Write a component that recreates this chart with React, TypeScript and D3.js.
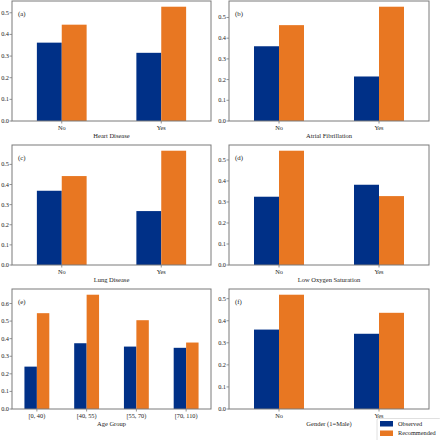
import React from "react";
import * as d3 from "d3";

const yesNo = ["No", "Yes"];
const ageGroups = ["[0, 40)", "[40, 55)", "[55, 70)", "[70, 110)"];

const panelLabels = ["(a)", "(b)", "(c)", "(d)", "(e)", "(f)"];
const axisTitles = [
  "Heart Disease",
  "Atrial Fibrillation",
  "Lung Disease",
  "Low Oxygen Saturation",
  "Age Group",
  "Gender (1=Male)",
];

const observedA = [0.362, 0.315];
const recommendedA = [0.445, 0.528];
const observedB = [0.361, 0.215];
const recommendedB = [0.463, 0.552];
const observedC = [0.369, 0.268];
const recommendedC = [0.442, 0.568];
const observedD = [0.325, 0.382];
const recommendedD = [0.544, 0.328];
const observedE = [0.241, 0.374, 0.355, 0.348];
const recommendedE = [0.545, 0.65, 0.505, 0.378];
const observedF = [0.36, 0.341];
const recommendedF = [0.518, 0.436];

const seriesNames = ["Observed", "Recommended"];
const colors = ["#003087", "#E87722"];

const panels = [
  { cats: yesNo, obs: observedA, rec: recommendedA },
  { cats: yesNo, obs: observedB, rec: recommendedB },
  { cats: yesNo, obs: observedC, rec: recommendedC },
  { cats: yesNo, obs: observedD, rec: recommendedD },
  { cats: ageGroups, obs: observedE, rec: recommendedE },
  { cats: yesNo, obs: observedF, rec: recommendedF },
];

const colX = [
  [12, 211],
  [229, 429],
];
const rowY = [
  [1, 121],
  [145, 265],
  [289, 409],
];

const FONT = "'Liberation Serif', 'DejaVu Serif', serif";
const SPINE = "#7a7a7a";

function Panel({ idx }: { idx: number }) {
  const p = panels[idx];
  const [x0, x1] = colX[idx % 2];
  const [y0, y1] = rowY[Math.floor(idx / 2)];
  const n = p.cats.length;
  const x = d3.scaleLinear().domain([-0.5, n - 0.5]).range([x0, x1]);
  const maxV = d3.max([...p.obs, ...p.rec]) as number;
  const y = d3.scaleLinear().domain([0, maxV * 1.05]).range([y1, y0]);
  const ticks = d3.range(0, maxV * 1.05 + 1e-9, 0.1);
  const bw = 0.25;
  const series = [p.obs, p.rec];
  return (
    <g>
      {series.map((vals, s) =>
        vals.map((v, i) => {
          const left = x(i - bw + s * bw);
          const right = x(i + s * bw);
          return (
            <rect
              key={`${s}-${i}`}
              x={left}
              y={y(v)}
              width={right - left}
              height={y(0) - y(v)}
              fill={colors[s]}
            />
          );
        })
      )}
      <rect
        x={x0}
        y={y0}
        width={x1 - x0}
        height={y1 - y0}
        fill="none"
        stroke={SPINE}
        strokeWidth={1}
      />
      {ticks.map((t) => (
        <g key={t}>
          <line x1={x0 - 2.5} x2={x0} y1={y(t)} y2={y(t)} stroke={SPINE} strokeWidth={0.8} />
          <text
            x={x0 - 3}
            y={y(t)}
            dy="0.32em"
            textAnchor="end"
            fontSize={6.3}
            fontFamily={FONT}
            fill="#222"
          >
            {d3.format(".1f")(t)}
          </text>
        </g>
      ))}
      {p.cats.map((c, i) => (
        <g key={c}>
          <line x1={x(i)} x2={x(i)} y1={y1} y2={y1 + 2.5} stroke={SPINE} strokeWidth={0.8} />
          <text
            x={x(i)}
            y={y1 + 8.5}
            textAnchor="middle"
            fontSize={6.3}
            fontFamily={FONT}
            fill="#222"
          >
            {c}
          </text>
        </g>
      ))}
      <text
        x={(x0 + x1) / 2}
        y={y1 + 17}
        textAnchor="middle"
        fontSize={6.5}
        fontFamily={FONT}
        fill="#222"
      >
        {axisTitles[idx]}
      </text>
      <text x={x0 + 6} y={y0 + 14.5} fontSize={6.8} fontFamily={FONT} fill="#222">
        {panelLabels[idx]}
      </text>
    </g>
  );
}

export default function App() {
  return (
    <svg
      width={440}
      height={440}
      style={{ position: "absolute", left: 0, top: 0, background: "#fff" }}
    >
      <rect x={0} y={0} width={440} height={440} fill="#fff" />
      {panels.map((_, i) => (
        <Panel key={i} idx={i} />
      ))}
      <g>
        <rect
          x={377}
          y={418.5}
          width={64}
          height={24}
          rx={1.5}
          fill="#fff"
          stroke="#d8d8d8"
          strokeWidth={0.8}
        />
        {seriesNames.map((s, i) => (
          <g key={s}>
            <rect x={380} y={421 + i * 9.5} width={13} height={5.5} fill={colors[i]} />
            <text
              x={398}
              y={423.8 + i * 9.5}
              dy="0.32em"
              fontSize={6.3}
              fontFamily={FONT}
              fill="#222"
            >
              {s}
            </text>
          </g>
        ))}
      </g>
    </svg>
  );
}
